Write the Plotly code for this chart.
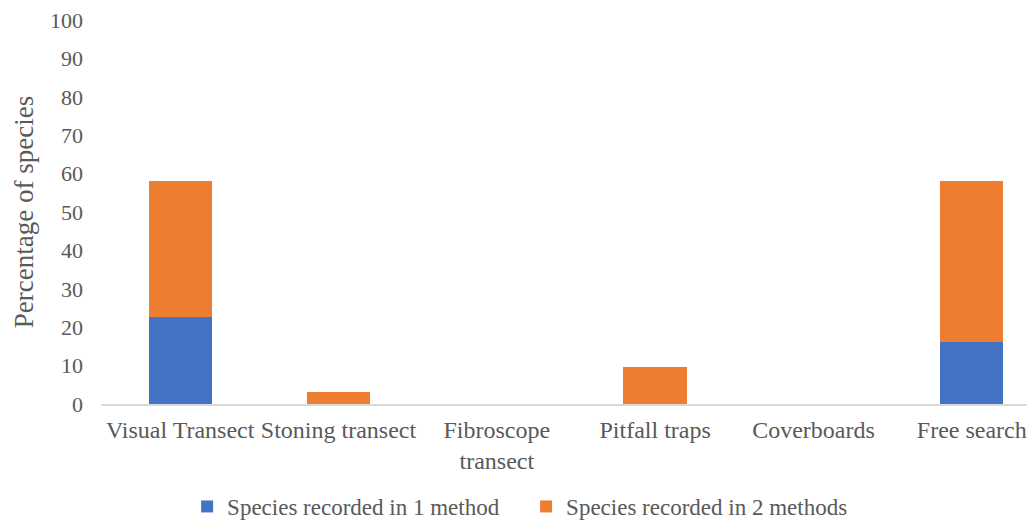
import plotly.graph_objects as go

categories = ["Visual Transect", "Stoning transect", "Fibroscope<br>transect",
              "Pitfall traps", "Coverboards", "Free search"]
one_method = [22.6, 0, 0, 0, 0, 16.1]
two_methods = [35.5, 3.2, 0, 9.7, 0, 41.9]
y_ticks = [0, 10, 20, 30, 40, 50, 60, 70, 80, 90, 100]

font_family = "Liberation Serif, Times New Roman, serif"
grey = "#595959"

fig = go.Figure()
fig.add_trace(go.Bar(x=categories, y=one_method, name="Species recorded in 1 method",
                     marker=dict(color="#4472C4", line=dict(width=0))))
fig.add_trace(go.Bar(x=categories, y=two_methods, name="Species recorded in 2 methods",
                     marker=dict(color="#ED7D31", line=dict(width=0))))

fig.update_layout(
    barmode="stack",
    bargap=0.6,
    width=1035,
    height=520,
    margin=dict(l=93, r=0, t=12, b=115),
    plot_bgcolor="white",
    paper_bgcolor="white",
    font=dict(family=font_family, color=grey, size=22),
    legend=dict(orientation="h", x=0.0914, xanchor="left", y=-0.268, yanchor="middle",
                font=dict(size=23), entrywidth=294, entrywidthmode="pixels",
                itemwidth=30, traceorder="normal"),
    xaxis=dict(showgrid=False, showline=True, linecolor="#d9d9d9", linewidth=2,
               ticks="", range=[-0.5, 5.45], tickfont=dict(size=24), automargin=False,
               ticklabelstandoff=3),
    yaxis=dict(range=[0, 100], tickvals=y_ticks, showgrid=False, zeroline=False,
               showline=False, ticks="", tickfont=dict(size=22), automargin=False,
               ticklabelstandoff=17, ticklabeloverflow="allow",
               title=dict(text="Percentage of species", font=dict(size=27), standoff=8)),
)

fig.write_html("out.html")
